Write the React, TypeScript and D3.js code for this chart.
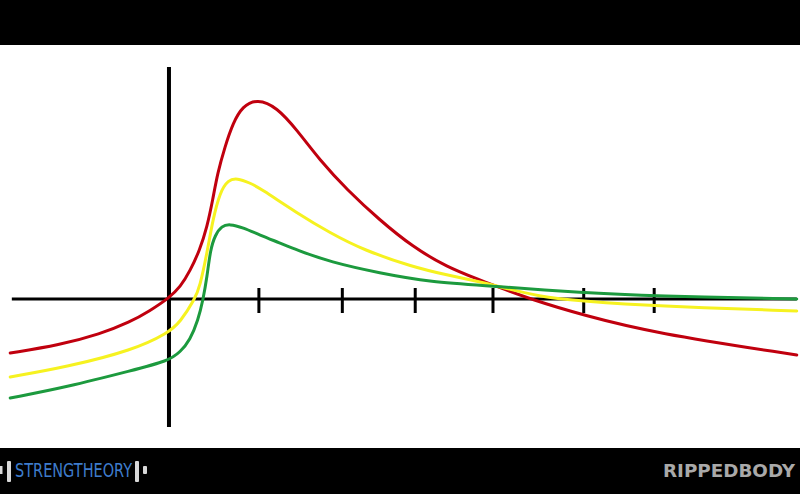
import React, { useEffect, useRef } from "react";
import * as d3 from "d3";

type Pt = [number, number];

// curves (x: time units from origin, y: response units)
const redCurve: Pt[] = [
  [-1.96, -1.08], [-1.35, -0.92], [-0.85, -0.7], [-0.48, -0.46], [-0.24, -0.24],
  [0, 0.02], [0.14, 0.24], [0.26, 0.56], [0.38, 0.98], [0.47, 1.44], [0.54, 1.98],
  [0.6, 2.52], [0.69, 3.04], [0.79, 3.52], [0.91, 3.86], [1.09, 4.0],
  [1.33, 3.84], [1.58, 3.38], [1.86, 2.78], [2.2, 2.18], [2.6, 1.58],
  [3.01, 1.04], [3.43, 0.64], [3.84, 0.38], [4.0, 0.28], [4.49, -0.02],
  [5.11, -0.32], [5.98, -0.68], [7.75, -1.12],
];

const yellowCurve: Pt[] = [
  [-1.96, -1.56], [-1.26, -1.36], [-0.44, -1.02], [-0.01, -0.68], [0.14, -0.46],
  [0.32, 0.0], [0.38, 0.24], [0.47, 0.92], [0.54, 1.58], [0.63, 2.14],
  [0.73, 2.38], [0.84, 2.42], [1.0, 2.32], [1.12, 2.22], [1.58, 1.72],
  [1.99, 1.32], [2.4, 0.98], [3.01, 0.64], [3.43, 0.48], [3.84, 0.34],
  [4.0, 0.28], [4.58, 0.04], [5.11, -0.04], [5.98, -0.14], [7.75, -0.24],
];

const greenCurve: Pt[] = [
  [-1.96, -1.98], [-1.26, -1.76], [-0.44, -1.42], [-0.01, -1.24], [0.14, -1.06],
  [0.26, -0.82], [0.36, -0.42], [0.42, -0.02], [0.47, 0.44], [0.51, 0.98],
  [0.57, 1.28], [0.65, 1.46], [0.75, 1.5], [0.91, 1.43], [1.12, 1.28],
  [1.37, 1.12], [1.58, 0.98], [1.99, 0.74], [2.6, 0.52], [3.22, 0.34],
  [4.0, 0.26], [5.11, 0.12], [5.98, 0.06], [7.75, 0.0],
];

const series = [
  { name: "red", color: "#c0000e", values: redCurve },
  { name: "yellow", color: "#f6f220", values: yellowCurve },
  { name: "green", color: "#1c9a3e", values: greenCurve },
];

const tickValues = [1.11, 2.14, 3.04, 4.0, 5.12, 5.99];
const xAxisExtent: [number, number] = [-1.94, 7.75];
const yAxisExtent: [number, number] = [-2.56, 4.64];

const W = 800;
const H = 494;

const App = () => {
  const svgRef = useRef<SVGSVGElement>(null);

  useEffect(() => {
    if (!svgRef.current) return;
    const x = d3.scaleLinear().domain([-2.086, 7.79]).range([0, W]);
    const y = d3.scaleLinear().domain([-3.9, 5.98]).range([H, 0]);

    const svg = d3.select(svgRef.current);
    svg.selectAll("*").remove();

    svg.append("rect").attr("width", W).attr("height", H).attr("fill", "#fff");
    // letterbox bars
    svg.append("rect").attr("width", W).attr("height", 45).attr("fill", "#000");
    svg.append("rect").attr("y", 448).attr("width", W).attr("height", H - 448).attr("fill", "#000");

    // axes
    svg
      .append("line")
      .attr("x1", x(xAxisExtent[0]))
      .attr("x2", x(xAxisExtent[1]))
      .attr("y1", y(0))
      .attr("y2", y(0))
      .attr("stroke", "#000")
      .attr("stroke-width", 3);

    svg
      .append("line")
      .attr("x1", x(0))
      .attr("x2", x(0))
      .attr("y1", y(yAxisExtent[1]))
      .attr("y2", y(yAxisExtent[0]))
      .attr("stroke", "#000")
      .attr("stroke-width", 4);

    svg
      .append("g")
      .selectAll("line")
      .data(tickValues)
      .join("line")
      .attr("x1", (d) => x(d))
      .attr("x2", (d) => x(d))
      .attr("y1", y(0) - 11)
      .attr("y2", y(0) + 14)
      .attr("stroke", "#000")
      .attr("stroke-width", 3);

    const line = d3
      .line<Pt>()
      .x((d) => x(d[0]))
      .y((d) => y(d[1]))
      .curve(d3.curveBasis);

    svg
      .append("g")
      .selectAll("path")
      .data(series)
      .join("path")
      .attr("d", (d) => line(d.values))
      .attr("fill", "none")
      .attr("stroke", (d) => d.color)
      .attr("stroke-width", 3)
      .attr("stroke-linecap", "round");

    // watermark left
    const left = svg.append("g");
    left.append("rect").attr("x", 0).attr("y", 466).attr("width", 2.5).attr("height", 8).attr("fill", "#d8d8d8");
    left.append("rect").attr("x", 7).attr("y", 461).attr("width", 4).attr("height", 21).attr("rx", 1).attr("fill", "#d8d8d8");
    left
      .append("text")
      .attr("x", 15)
      .attr("y", 477)
      .attr("textLength", 117)
      .attr("lengthAdjust", "spacingAndGlyphs")
      .style("font-family", "'DejaVu Sans Condensed', 'DejaVu Sans', sans-serif")
      .style("font-size", "19px")
      .style("fill", "#3e7ccc")
      .text("STRENGTHEORY");
    left.append("rect").attr("x", 135).attr("y", 461).attr("width", 4).attr("height", 21).attr("rx", 1).attr("fill", "#d8d8d8");
    left.append("rect").attr("x", 143).attr("y", 466).attr("width", 4).attr("height", 8).attr("rx", 1).attr("fill", "#d8d8d8");

    // watermark right
    svg
      .append("text")
      .attr("x", 663)
      .attr("y", 477)
      .attr("textLength", 132)
      .attr("lengthAdjust", "spacingAndGlyphs")
      .style("font-family", "'DejaVu Sans', sans-serif")
      .style("font-weight", "bold")
      .style("font-size", "18px")
      .style("fill", "#a9a9a9")
      .text("RIPPEDBODY");
  }, []);

  return (
    <svg
      ref={svgRef}
      width={W}
      height={H}
      style={{ position: "absolute", left: 0, top: 0, display: "block" }}
    />
  );
};

export default App;
